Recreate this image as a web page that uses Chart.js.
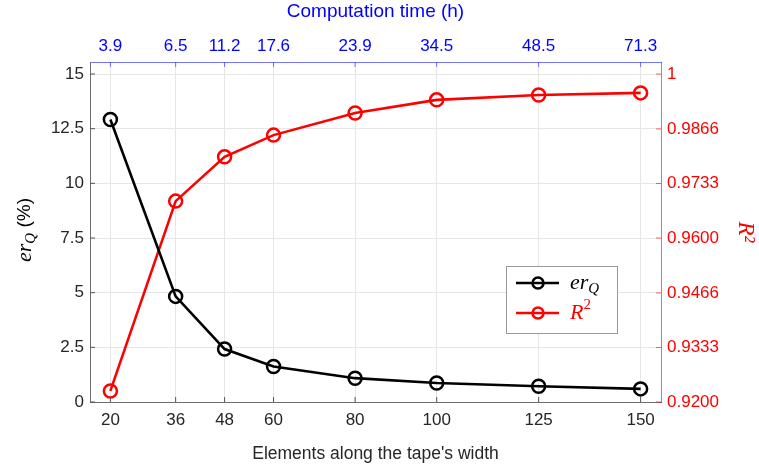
<!DOCTYPE html>
<html>
<head>
<meta charset="utf-8">
<script src="https://cdn.jsdelivr.net/npm/chart.js@4.4.1/dist/chart.umd.min.js"></script>
<style>
  html, body { margin: 0; padding: 0; background: #fff; }
  #wrap { position: relative; width: 759px; height: 469px; }
</style>
</head>
<body>
<div id="wrap"><canvas id="chart" width="759" height="469"></canvas></div>
<script>
// Datos
const elements = [20, 36, 48, 60, 80, 100, 125, 150];
const compTime = ["3.9", "6.5", "11.2", "17.6", "23.9", "34.5", "48.5", "71.3"];
const erQ = [12.92, 4.83, 2.42, 1.62, 1.09, 0.87, 0.72, 0.6];
const r2 = [0.9227, 0.9690, 0.9798, 0.9851, 0.9905, 0.9937, 0.9949, 0.9954];
const leftTicks = [0, 2.5, 5, 7.5, 10, 12.5, 15];
const rightTicks = ["0.9200", "0.9333", "0.9466", "0.9600", "0.9733", "0.9866", "1"];

const SANS = '"Liberation Sans", Arial, Helvetica, sans-serif';
const SERIF = '"Liberation Serif", "Times New Roman", serif';
const xMin = 15, xMax = 155;
const yMax = 15.55;
const r2Min = 0.92, r2Max = 0.92 + yMax / 15 * 0.08;

// ticks hacia dentro, como en MATLAB
const innerTicks = {
  id: "innerTicks",
  afterDatasetsDraw(chart) {
    const ctx = chart.ctx, a = chart.chartArea, s = chart.scales;
    const len = 5;
    ctx.save();
    ctx.lineWidth = 1;
    ctx.strokeStyle = "#555";
    s.y.ticks.forEach(t => {
      const p = s.y.getPixelForValue(t.value);
      ctx.beginPath(); ctx.moveTo(a.left, p); ctx.lineTo(a.left + len, p); ctx.stroke();
    });
    s.x.ticks.forEach(t => {
      const p = s.x.getPixelForValue(t.value);
      ctx.beginPath(); ctx.moveTo(p, a.bottom); ctx.lineTo(p, a.bottom - len); ctx.stroke();
    });
    ctx.strokeStyle = "rgba(255,0,0,0.6)";
    s.y1.ticks.forEach(t => {
      const p = s.y1.getPixelForValue(t.value);
      ctx.beginPath(); ctx.moveTo(a.right, p); ctx.lineTo(a.right - len, p); ctx.stroke();
    });
    ctx.strokeStyle = "rgba(60,60,255,0.7)";
    s.x2.ticks.forEach(t => {
      const p = s.x2.getPixelForValue(t.value);
      ctx.beginPath(); ctx.moveTo(p, a.top); ctx.lineTo(p, a.top + len); ctx.stroke();
    });
    ctx.restore();
  }
};

// texto con subíndice / superíndice
function drawRich(ctx, x, y, parts) {
  let cx = x;
  parts.forEach(p => {
    ctx.font = p.font;
    ctx.fillStyle = p.color;
    ctx.fillText(p.text, cx, y + (p.dy || 0));
    cx += ctx.measureText(p.text).width;
  });
  return cx - x;
}
function richWidth(ctx, parts) {
  let w = 0;
  parts.forEach(p => { ctx.font = p.font; w += ctx.measureText(p.text).width; });
  return w;
}

const erParts = color => [
  { text: "er", font: "italic 22px " + SERIF, color },
  { text: "Q", font: "italic 15px " + SERIF, color, dy: 6 }
];
const r2Parts = color => [
  { text: "R", font: "italic 22px " + SERIF, color },
  { text: "2", font: "15px " + SERIF, color, dy: -8 }
];

const extras = {
  id: "extras",
  afterDraw(chart) {
    const ctx = chart.ctx, a = chart.chartArea;
    ctx.save();
    ctx.textBaseline = "middle";
    ctx.textAlign = "left";

    // título del eje izquierdo
    const leftTitle = erParts("#000").concat([{ text: " (%)", font: "19px " + SANS, color: "#000" }]);
    ctx.save();
    ctx.translate(25, (a.top + a.bottom) / 2 - 2);
    ctx.rotate(-Math.PI / 2);
    drawRich(ctx, -richWidth(ctx, leftTitle) / 2, 0, leftTitle);
    ctx.restore();

    // leyenda
    const bx = a.right - 155, by = a.top + 204, bw = 111, bh = 67;
    ctx.fillStyle = "#fff";
    ctx.fillRect(bx, by, bw, bh);
    ctx.strokeStyle = "#999";
    ctx.lineWidth = 1;
    ctx.strokeRect(bx + 0.5, by + 0.5, bw, bh);
    const rows = [
      { color: "#000", parts: erParts("#000"), y: by + 17 },
      { color: "#ff0000", parts: r2Parts("#ff0000"), y: by + 47 }
    ];
    rows.forEach(r => {
      ctx.strokeStyle = r.color;
      ctx.lineWidth = 2.5;
      ctx.beginPath(); ctx.moveTo(bx + 10, r.y); ctx.lineTo(bx + 53, r.y); ctx.stroke();
      ctx.beginPath(); ctx.arc(bx + 32, r.y, 5.5, 0, Math.PI * 2); ctx.stroke();
      drawRich(ctx, bx + 64, r.y, r.parts);
    });
    ctx.restore();
  }
};

new Chart(document.getElementById("chart"), {
  type: "line",
  data: {
    datasets: [
      {
        label: "erQ",
        data: elements.map((e, i) => ({ x: e, y: erQ[i] })),
        borderColor: "#000",
        backgroundColor: "rgba(0,0,0,0)",
        borderWidth: 2.6,
        pointRadius: 6.5,
        pointBorderWidth: 2.5,
        pointBorderColor: "#000",
        pointBackgroundColor: "rgba(0,0,0,0)",
        xAxisID: "x",
        yAxisID: "y"
      },
      {
        label: "R²",
        data: elements.map((e, i) => ({ x: e, y: r2[i] })),
        borderColor: "#ff0000",
        backgroundColor: "rgba(0,0,0,0)",
        borderWidth: 2.6,
        pointRadius: 6.5,
        pointBorderWidth: 2.5,
        pointBorderColor: "#ff0000",
        pointBackgroundColor: "rgba(0,0,0,0)",
        xAxisID: "x",
        yAxisID: "y1"
      }
    ]
  },
  options: {
    responsive: false,
    animation: false,
    layout: { padding: 0 },
    plugins: { legend: { display: false }, tooltip: { enabled: false } },
    scales: {
      x: {
        type: "linear",
        position: "bottom",
        min: xMin, max: xMax,
        afterBuildTicks: s => { s.ticks = elements.map(v => ({ value: v })); },
        afterFit: s => { s.height = 67; },
        ticks: { color: "#262626", font: { family: SANS, size: 17 }, padding: 8, maxRotation: 0, autoSkip: false },
        grid: { color: "#e6e6e6", drawTicks: false },
        border: { color: "#6e6e6e", width: 1 },
        title: {
          display: true,
          text: "Elements along the tape's width",
          color: "#262626",
          font: { family: SANS, size: 17.5 },
          padding: { top: 0, bottom: 4 }
        }
      },
      x2: {
        type: "linear",
        position: "top",
        min: xMin, max: xMax,
        afterBuildTicks: s => { s.ticks = elements.map(v => ({ value: v })); },
        afterFit: s => { s.height = 62; },
        ticks: {
          color: "#0000ff",
          font: { family: SANS, size: 17 },
          padding: 5,
          maxRotation: 0,
          autoSkip: false,
          callback: (v, i) => compTime[i]
        },
        grid: { drawOnChartArea: false, drawTicks: false },
        border: { color: "rgba(60,60,255,0.7)", width: 1 },
        title: {
          display: true,
          text: "Computation time (h)",
          color: "#0000ff",
          font: { family: SANS, size: 19 },
          padding: { top: 0, bottom: 0 }
        }
      },
      y: {
        type: "linear",
        position: "left",
        min: 0, max: yMax,
        afterBuildTicks: s => { s.ticks = leftTicks.map(v => ({ value: v })); },
        afterFit: s => { s.width = 90; },
        ticks: { color: "#262626", font: { family: SANS, size: 17 }, padding: 6 },
        grid: { color: "#e6e6e6", drawTicks: false },
        border: { color: "#6e6e6e", width: 1 }
      },
      y1: {
        type: "linear",
        position: "right",
        min: r2Min, max: r2Max,
        afterBuildTicks: s => { s.ticks = rightTicks.map(v => ({ value: parseFloat(v) })); },
        afterFit: s => { s.width = 98; },
        ticks: {
          color: "#ff0000",
          font: { family: SANS, size: 17 },
          padding: 6,
          callback: (v, i) => rightTicks[i]
        },
        grid: { drawOnChartArea: false, drawTicks: false },
        border: { color: "rgba(255,0,0,0.6)", width: 1 },
        title: {
          display: true,
          text: "R²",
          color: "#ff0000",
          font: { family: SERIF, size: 23, style: "italic" },
          padding: { top: 0, bottom: 0 }
        }
      }
    }
  },
  plugins: [innerTicks, extras]
});
</script>
</body>
</html>
